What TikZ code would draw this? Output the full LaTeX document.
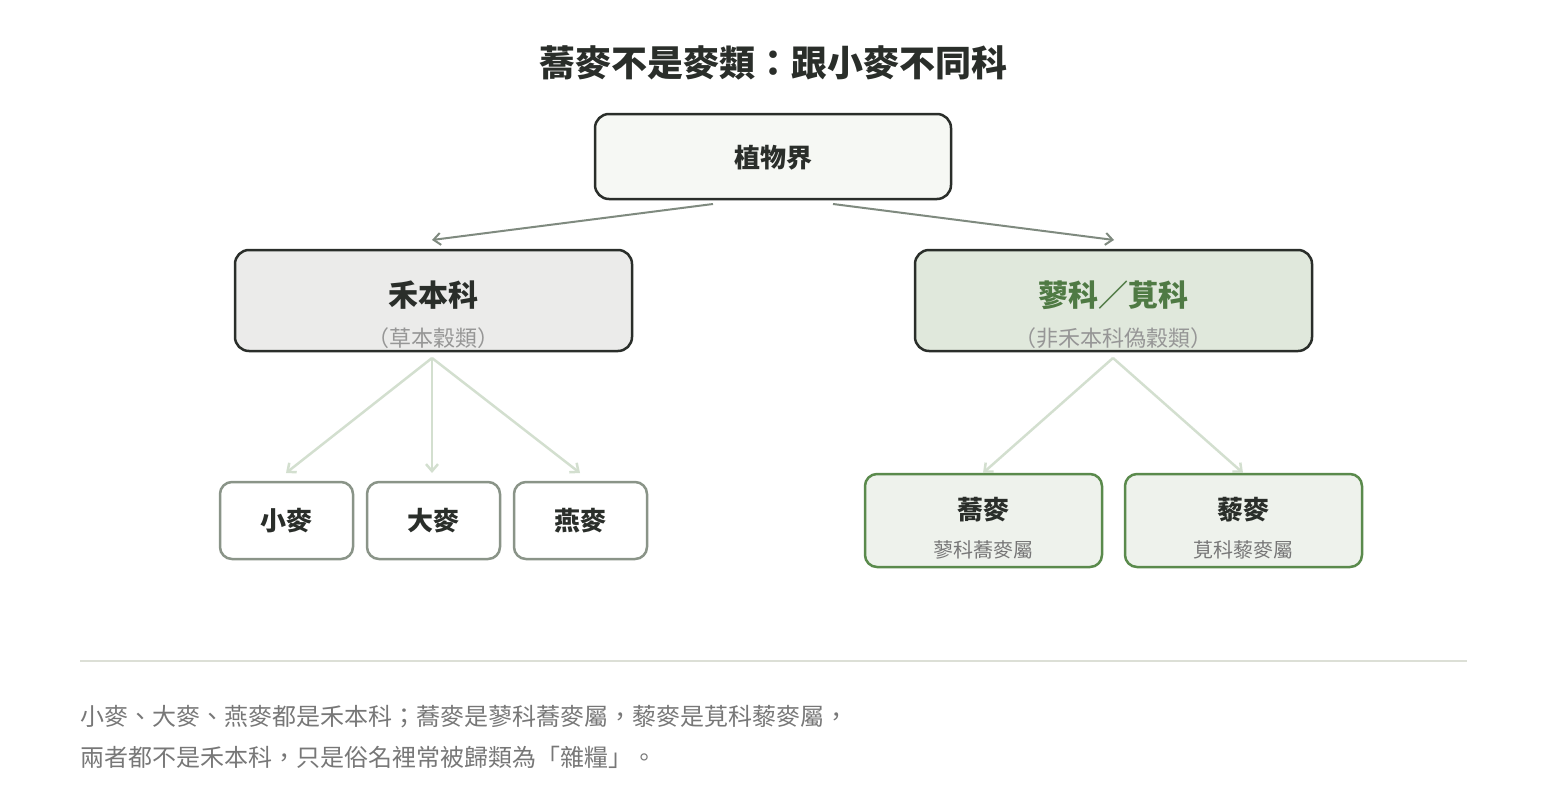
\documentclass[tikz,border=0pt]{standalone}
\usepackage{fontspec}
\setmainfont{Noto Sans CJK TC}
\usetikzlibrary{arrows.meta}
\definecolor{dk}{HTML}{2A2E2A}
\definecolor{gr}{HTML}{4F7A44}
\definecolor{gb}{HTML}{5A8A4C}
\definecolor{sb}{HTML}{8A9488}
\definecolor{ar}{HTML}{7F8A7F}
\definecolor{la}{HTML}{D3DFCF}
\definecolor{tx}{HTML}{777777}
\begin{document}
\begin{tikzpicture}[x=1pt,y=-1pt,
 box/.style={draw=dk,line width=2.5pt,rounded corners=14pt,inner sep=0},
 sbox/.style={draw=sb,line width=2.5pt,fill=white,rounded corners=12pt,minimum width=133pt,minimum height=77pt,inner sep=0},
 gbox/.style={draw=gb,line width=2.5pt,fill=HTML-eef2ec,rounded corners=12pt,minimum width=237pt,minimum height=93pt,inner sep=0},
 t/.style={font=\bfseries\fontsize{26}{30}\selectfont,text=dk},
 s/.style={font=\fontsize{20}{24}\selectfont,text=tx},
 a1/.style={draw=ar,line width=2pt,-{Straight Barb[length=7pt,width=12pt]}},
 a2/.style={draw=la,line width=2.5pt,-{Straight Barb[length=7pt,width=12pt]}}]
\definecolor{HTML-eef2ec}{HTML}{EEF2EC}
\useasboundingbox (0,0) rectangle (1546,800);
\node[font=\bfseries\fontsize{36}{40}\selectfont,text=dk] (title) at (773,63) {蕎麥不是麥類：跟小麥不同科};
\node[box,fill={rgb,255:red,246;green,248;blue,244},minimum width=356pt,minimum height=85pt] (root) at (773,156.5) {};
\node[t] (roott) at (773,158) {植物界};
\node[box,fill={rgb,255:red,235;green,235;blue,234},minimum width=397pt,minimum height=101pt] (L) at (433.5,300.5) {};
\node[t,font=\bfseries\fontsize{30}{34}\selectfont] (Lt) at (433.5,295) {禾本科};
\node[s,font=\fontsize{22}{26}\selectfont,text={rgb,255:red,150;green,150;blue,150}] (Ls) at (433.5,338) {（草本穀類）};
\node[box,fill={rgb,255:red,224;green,232;blue,220},minimum width=397pt,minimum height=101pt] (R) at (1113.5,300.5) {};
\node[t,font=\bfseries\fontsize{30}{34}\selectfont,text=gr] (Rt) at (1113.5,295) {蓼科／莧科};
\node[s,font=\fontsize{22}{26}\selectfont,text={rgb,255:red,150;green,150;blue,150}] (Rs) at (1113.5,338) {（非禾本科偽穀類）};
\coordinate (r1) at (713,204); \coordinate (r2) at (833,204);
\coordinate (l1) at (432,240); \coordinate (l2) at (1114,240);
\draw[a1] (r1) -- (l1);
\draw[a1] (r2) -- (l2);
\node[sbox] (w) at (286.5,520.5) {}; \node[t] at (w) {小麥};
\node[sbox] (b) at (433.5,520.5) {}; \node[t] at (b) {大麥};
\node[sbox] (o) at (580.5,520.5) {}; \node[t] at (o) {燕麥};
\node[gbox] (q) at (983.5,520.5) {}; \node[t] at (983.5,510) {蕎麥}; \node[s] at (983.5,550) {蓼科蕎麥屬};
\node[gbox] (z) at (1243.5,520.5) {}; \node[t] at (1243.5,510) {藜麥}; \node[s] at (1243.5,550) {莧科藜麥屬};
\coordinate (ls) at (432,358); \coordinate (rs) at (1113,358);
\draw[a2] (ls) -- (286,473);
\draw[a2] (ls) -- (432,473);
\draw[a2] (ls) -- (580,473);
\draw[a2] (rs) -- (983,473);
\draw[a2] (rs) -- (1243,473);
\draw[draw={rgb,255:red,220;green,223;blue,214},line width=1.5pt] (80,661) -- (1467,661);
\node[anchor=west,inner sep=0,font=\fontsize{24}{28}\selectfont,text=tx] at (80,717) {小麥、大麥、燕麥都是禾本科；蕎麥是蓼科蕎麥屬，藜麥是莧科藜麥屬，};
\node[anchor=west,inner sep=0,font=\fontsize{24}{28}\selectfont,text=tx] at (80,757) {兩者都不是禾本科，只是俗名裡常被歸類為「雜糧」。};
\end{tikzpicture}
\end{document}
